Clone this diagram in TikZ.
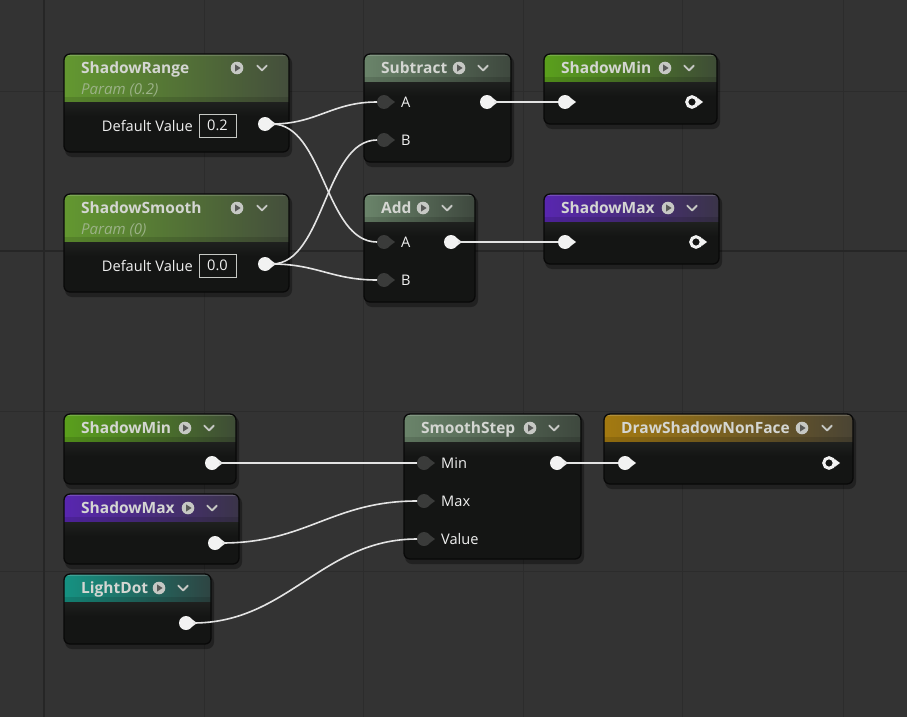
\documentclass[tikz,border=0pt]{standalone}
\usepackage{fontspec}
\setmainfont{Open Sans}
\definecolor{bgc}{HTML}{333333}
\definecolor{gridl}{HTML}{2C2C2C}
\definecolor{gridm}{HTML}{262626}
\definecolor{bodyc}{HTML}{141514}
\definecolor{bodyt}{HTML}{1F211F}
\definecolor{edgec}{HTML}{090909}
\definecolor{pinw}{HTML}{F2F2F2}
\definecolor{ping}{HTML}{3A3B3A}
\definecolor{wirec}{HTML}{E4E4E4}
\definecolor{titlec}{HTML}{D4D6D2}
\definecolor{iconc}{HTML}{C6C8C4}
\definecolor{paramc}{HTML}{9CB288}
\definecolor{lblc}{HTML}{F0F0F0}
\definecolor{parL}{HTML}{639830}\definecolor{parR}{HTML}{444E3C}
\definecolor{opL}{HTML}{6A846A}\definecolor{opR}{HTML}{3E483E}
\definecolor{minL}{HTML}{5AA01C}\definecolor{minR}{HTML}{3E4C36}
\definecolor{maxL}{HTML}{5826B0}\definecolor{maxR}{HTML}{3A3448}
\definecolor{ldL}{HTML}{159282}\definecolor{ldR}{HTML}{2E4442}
\definecolor{dsL}{HTML}{A47A10}\definecolor{dsR}{HTML}{4A4434}
\pgfdeclarelayer{bgl}\pgfdeclarelayer{body}
\pgfsetlayers{bgl,body,main}
\tikzset{
  uebody/.style={inner sep=0pt,outer sep=0pt,fill=bodyc,rounded corners=6pt},
  titletext/.style={inner sep=0pt,anchor=base west,text=titlec,font=\bfseries\fontsize{15.5}{18}\selectfont},
  paramtext/.style={inner sep=0pt,anchor=base west,text=paramc,font=\itshape\fontsize{15}{17}\selectfont},
  lbl/.style={inner sep=0pt,anchor=base west,text=lblc,font=\fontsize{14.6}{17}\selectfont},
  valbox/.style={inner sep=0pt,draw=iconc,line width=0.8pt,minimum width=37pt,minimum height=23pt,text=lblc,font=\fontsize{14.6}{17}\selectfont},
  playicon/.style={circle,inner sep=0pt,minimum size=12.6pt,fill=iconc},
  pinbase/.style={circle,inner sep=0pt,outer sep=0pt},
  pinon/.style={pinbase,minimum size=14pt,fill=pinw},
  pinoff/.style={pinbase,minimum size=14pt,fill=ping},
  pinring/.style={pinbase,minimum size=10.6pt,draw=pinw,line width=3pt},
  tri-pinon/.style={fill=pinw},
  tri-pinoff/.style={fill=ping},
  tri-pinring/.style={fill=pinw},
  wire/.style={draw=wirec,line width=1.6pt},
}
% #1 name #2 x1 #3 y1 #4 x2 #5 y2 #6 header bottom #7 left colour #8 right colour
\newcommand\uebox[8]{%
  \begin{pgfonlayer}{body}
    \fill[black,opacity=.35,rounded corners=7pt] (#2+1,#3+2) rectangle (#4+3,#5+5);
    \node[uebody,anchor=north west,minimum width={#4-#2},minimum height={#5-#3}] (#1) at (#2,#3) {};
    \begin{scope}
      \clip[rounded corners=6pt] (#2,#3) rectangle (#4,#5);
      \shade[left color=#7,right color=#8] (#2,#3) rectangle (#4,#6);
      \fill[white,opacity=.18] (#2,#3) rectangle (#4,#3+1.8);
      \fill[black,opacity=.12] (#2,#6-5) rectangle (#4,#6);
      \shade[top color=bodyt,bottom color=bodyc] (#2,#6) rectangle (#4,#6+14);
    \end{scope}
    \draw[edgec,line width=1.3pt,rounded corners=6pt] (#2,#3) rectangle (#4,#5);
  \end{pgfonlayer}}
% #1 name #2 text x #3 centre y #4 text #5 icon x #6 chevron x
\newcommand\uetitle[6]{%
  \node[titletext] (#1) at (#2,#3+5.5) {#4};
  \node[playicon] (#1-ic) at (#5,#3) {};
  \fill[black,opacity=.55] (#1-ic.center) ++(-2,-3.6) -- ++(5.6,3.6) -- ++(-5.6,3.6) -- cycle;
  \draw[iconc,line width=1.9pt,line cap=round,line join=round] (#6-4.8,#3-2.4) -- (#6,#3+2.4) -- (#6+4.8,#3-2.4);}
% #1 name #2 x #3 y #4 style
\newcommand\uepin[4]{%
  \node[#4] (#1) at (#2,#3) {};
  \fill[tri-#4] (#1.center) ++(5.4,-4.2) -- ++(5.6,4.2) -- ++(-5.6,4.2) -- cycle;}
\begin{document}
\begin{tikzpicture}[x=1pt,y=-1pt]
\useasboundingbox (0,0) rectangle (907,717);
\begin{pgfonlayer}{bgl}
  \fill[bgc] (0,0) rectangle (907,717);
  \foreach \gx in {204,363,523,682,843} \draw[gridl,line width=1pt] (\gx,0) -- (\gx,717);
  \foreach \gy in {91,411,571} \draw[gridl,line width=1pt] (0,\gy) -- (907,\gy);
  \draw[gridm,line width=1.6pt] (44,0) -- (44,717);
  \draw[gridm,line width=1.6pt] (0,251) -- (907,251);
\end{pgfonlayer}

% ---- boxes
\uebox{sr}{64}{54}{289}{152}{102}{parL}{parR}
\uebox{ss}{64}{194}{289}{292}{242}{parL}{parR}
\uebox{sub}{364}{54}{511}{162}{82}{opL}{opR}
\uebox{add}{364}{194}{475}{302}{222}{opL}{opR}
\uebox{smin}{544}{54}{717}{124}{82}{minL}{minR}
\uebox{smax}{544}{194}{719}{264}{222}{maxL}{maxR}
\uebox{lmin}{64}{414}{236}{484}{442}{minL}{minR}
\uebox{lmax}{64}{494}{239}{564}{522}{maxL}{maxR}
\uebox{ld}{64}{574}{211}{644}{602}{ldL}{ldR}
\uebox{sst}{404}{414}{581}{559}{442}{opL}{opR}
\uebox{dsn}{604}{414}{853}{484}{442}{dsL}{dsR}

% ---- titles
\uetitle{sr-t}{81}{68}{ShadowRange}{237}{262}
\node[paramtext] (sr-p) at (81,94) {Param (0.2)};
\uetitle{ss-t}{81}{208}{ShadowSmooth}{237}{262}
\node[paramtext] (ss-p) at (81,234) {Param (0)};
\uetitle{sub-t}{381}{68}{Subtract}{459}{483}
\uetitle{add-t}{381}{208}{Add}{423}{447}
\uetitle{smin-t}{561}{68}{ShadowMin}{665}{689}
\uetitle{smax-t}{561}{208}{ShadowMax}{668}{692}
\uetitle{lmin-t}{81}{428}{ShadowMin}{185}{209}
\uetitle{lmax-t}{81}{508}{ShadowMax}{188}{212}
\uetitle{ld-t}{81}{588}{LightDot}{159}{183}
\uetitle{sst-t}{421}{428}{SmoothStep}{530}{554}
\uetitle{dsn-t}{621}{428}{DrawShadowNonFace}{802}{827}

% ---- labels and values
\node[lbl,anchor=base east] (sr-l) at (193,131) {Default Value};
\node[valbox] (sr-v) at (217.5,125.5) {0.2};
\node[lbl,anchor=base east] (ss-l) at (193,271) {Default Value};
\node[valbox] (ss-v) at (217.5,265.5) {0.0};
\node[lbl] (sub-la) at (401,107) {A};
\node[lbl] (sub-lb) at (401,145) {B};
\node[lbl] (add-la) at (401,247) {A};
\node[lbl] (add-lb) at (401,285) {B};
\node[lbl] (sst-l1) at (441,468) {Min};
\node[lbl] (sst-l2) at (441,506) {Max};
\node[lbl] (sst-l3) at (441,544) {Value};

% ---- pins
\uepin{sr-o}{265}{124}{pinon}
\uepin{ss-o}{265}{264}{pinon}
\uepin{sub-a}{384}{102}{pinoff}
\uepin{sub-b}{384}{140}{pinoff}
\uepin{sub-o}{487}{102}{pinon}
\uepin{add-a}{384}{242}{pinoff}
\uepin{add-b}{384}{280}{pinoff}
\uepin{add-o}{451}{242}{pinon}
\uepin{smin-i}{565}{102}{pinon}
\uepin{smin-o}{692}{102}{pinring}
\uepin{smax-i}{565}{242}{pinon}
\uepin{smax-o}{696}{242}{pinring}
\uepin{lmin-o}{212}{463}{pinon}
\uepin{lmax-o}{215}{543}{pinon}
\uepin{ld-o}{186}{623}{pinon}
\uepin{sst-min}{424}{463}{pinoff}
\uepin{sst-max}{424}{501}{pinoff}
\uepin{sst-val}{424}{539}{pinoff}
\uepin{sst-o}{557}{463}{pinon}
\uepin{dsn-i}{625}{463}{pinon}
\uepin{dsn-o}{829}{463}{pinring}

% ---- wires
\draw[wire] (sr-o.east) .. controls +(45,0) and +(-45,0) .. (sub-a.west);
\draw[wire] (sr-o.east) .. controls +(52,0) and +(-52,0) .. (add-a.west);
\draw[wire] (ss-o.east) .. controls +(52,0) and +(-52,0) .. (sub-b.west);
\draw[wire] (ss-o.east) .. controls +(45,0) and +(-45,0) .. (add-b.west);
\draw[wire] (sub-o.east) -- (smin-i.west);
\draw[wire] (add-o.east) -- (smax-i.west);
\draw[wire] (lmin-o.east) -- (sst-min.west);
\draw[wire] (lmax-o.east) .. controls +(85,0) and +(-85,0) .. (sst-max.west);
\draw[wire] (ld-o.east) .. controls +(95,0) and +(-95,0) .. (sst-val.west);
\draw[wire] (sst-o.east) -- (dsn-i.west);
\end{tikzpicture}
\end{document}
